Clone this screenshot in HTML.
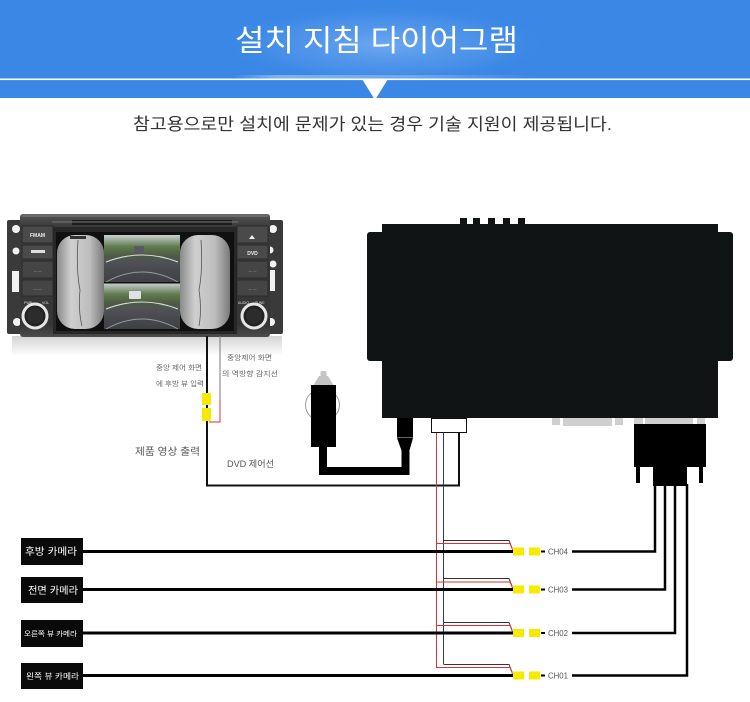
<!DOCTYPE html>
<html><head><meta charset="utf-8">
<style>
html,body{margin:0;padding:0;background:#fff;}
svg{display:block;}
text{font-family:"Liberation Sans","Noto Sans CJK KR",sans-serif;}
</style></head>
<body>
<svg width="750" height="702" viewBox="0 0 750 702" xmlns="http://www.w3.org/2000/svg">
<defs>
  <radialGradient id="glow" cx="0.5" cy="0.5" r="0.5">
    <stop offset="0" stop-color="#7fb4f2" stop-opacity="0.75"/>
    <stop offset="0.7" stop-color="#5b9cec" stop-opacity="0.35"/>
    <stop offset="1" stop-color="#3a87e6" stop-opacity="0"/>
  </radialGradient>
  <linearGradient id="stripe" x1="0" y1="0" x2="1" y2="0">
    <stop offset="0" stop-color="#ffffff" stop-opacity="0"/>
    <stop offset="0.15" stop-color="#ffffff" stop-opacity="0.7"/>
    <stop offset="0.6" stop-color="#ffffff" stop-opacity="0.5"/>
    <stop offset="1" stop-color="#ffffff" stop-opacity="0"/>
  </linearGradient>
  <linearGradient id="refl" x1="0" y1="0" x2="0" y2="1">
    <stop offset="0" stop-color="#c9c9c9"/>
    <stop offset="1" stop-color="#ffffff"/>
  </linearGradient>
  <linearGradient id="fish" x1="0" y1="0" x2="1" y2="0">
    <stop offset="0" stop-color="#8a8a8a"/>
    <stop offset="0.3" stop-color="#cfcfcf"/>
    <stop offset="0.7" stop-color="#bdbdbd"/>
    <stop offset="1" stop-color="#7a7a7a"/>
  </linearGradient>
  <linearGradient id="road" x1="0" y1="0" x2="0" y2="1">
    <stop offset="0" stop-color="#c9d0d4"/>
    <stop offset="0.25" stop-color="#5f7a4c"/>
    <stop offset="0.45" stop-color="#4c5a45"/>
    <stop offset="0.55" stop-color="#505256"/>
    <stop offset="1" stop-color="#3e4044"/>
  </linearGradient>
  <linearGradient id="chassis" x1="0" y1="0" x2="0" y2="1">
    <stop offset="0" stop-color="#555"/>
    <stop offset="0.1" stop-color="#3b3b3b"/>
    <stop offset="0.9" stop-color="#353535"/>
    <stop offset="1" stop-color="#4a4a4a"/>
  </linearGradient>
</defs>

<!-- HEADER -->
<rect x="0" y="0" width="750" height="98" fill="#3a87e6"/>
<ellipse cx="386" cy="45" rx="165" ry="40" fill="url(#glow)"/>
<rect x="232" y="75" width="300" height="4" fill="url(#stripe)" opacity="0.5"/>
<rect x="0" y="78.5" width="750" height="1.6" fill="#ffffff"/>
<polygon points="362,79 388,79 375,100" fill="#ffffff"/>
<text x="376.5" y="51" font-size="30" fill="#ffffff" text-anchor="middle" textLength="283" lengthAdjust="spacingAndGlyphs">설치 지침 다이어그램</text>
<text x="372.5" y="130" font-size="17" fill="#333" text-anchor="middle" textLength="479" lengthAdjust="spacingAndGlyphs">참고용으로만 설치에 문제가 있는 경우 기술 지원이 제공됩니다.</text>

<!-- HEAD UNIT -->
<rect x="12" y="336" width="270" height="20" fill="url(#refl)" opacity="0.8"/>
<rect x="7" y="220" width="18" height="114" rx="2" fill="#3a3a3a"/>
<rect x="265" y="220" width="18" height="114" rx="2" fill="#3a3a3a"/>
<circle cx="16" cy="229" r="4" fill="#f2f2f2"/>
<circle cx="16" cy="251" r="3.5" fill="#f2f2f2"/>
<rect x="12" y="271" width="7" height="21" fill="#f2f2f2"/>
<circle cx="17" cy="322" r="4" fill="#f2f2f2"/>
<circle cx="273" cy="229" r="4" fill="#f2f2f2"/>
<circle cx="270" cy="250" r="3.5" fill="#f2f2f2"/>
<circle cx="273" cy="264" r="3.5" fill="#f2f2f2"/>
<rect x="268" y="270" width="7" height="21" fill="#f2f2f2"/>
<circle cx="271" cy="322" r="4" fill="#f2f2f2"/>
<rect x="20" y="214" width="250" height="123" rx="3" fill="url(#chassis)"/>
<rect x="22" y="214" width="246" height="3" fill="#6a6a6a"/>
<rect x="72" y="220" width="160" height="5" fill="#1c1c1c"/>
<rect x="52" y="221" width="186" height="2" fill="#777" opacity="0.5"/>
<rect x="22" y="226" width="31" height="17" fill="#4a4a4a" stroke="#2a2a2a" stroke-width="1"/>
<rect x="22" y="245" width="31" height="14" fill="#4a4a4a" stroke="#2a2a2a" stroke-width="1"/>
<rect x="22" y="261" width="31" height="17" fill="#454545" stroke="#2a2a2a" stroke-width="1"/>
<rect x="22" y="280" width="31" height="16" fill="#454545" stroke="#2a2a2a" stroke-width="1"/>
<text x="37.5" y="237" font-size="5" fill="#eee" text-anchor="middle" font-weight="bold">FMAM</text>
<rect x="31" y="250" width="14" height="3" fill="#ddd"/>
<text x="37.5" y="272" font-size="3.5" fill="#aaa" text-anchor="middle">— —</text>
<text x="37.5" y="290" font-size="3.5" fill="#aaa" text-anchor="middle">— —</text>
<text x="24" y="304" font-size="3.5" fill="#ddd">PWR</text>
<text x="42" y="304" font-size="3.5" fill="#ddd">VOL</text>
<circle cx="35" cy="316" r="12" fill="#222" stroke="#e6e6e6" stroke-width="3"/>
<circle cx="35" cy="316" r="8" fill="#2c2c2c"/>
<rect x="237" y="226" width="31" height="17" fill="#4a4a4a" stroke="#2a2a2a" stroke-width="1"/>
<rect x="237" y="245" width="31" height="14" fill="#4a4a4a" stroke="#2a2a2a" stroke-width="1"/>
<rect x="237" y="261" width="31" height="17" fill="#454545" stroke="#2a2a2a" stroke-width="1"/>
<rect x="237" y="280" width="31" height="16" fill="#454545" stroke="#2a2a2a" stroke-width="1"/>
<polygon points="249,239 255,239 252,235" fill="#eee"/>
<text x="252.5" y="255" font-size="5" fill="#eee" text-anchor="middle" font-weight="bold">DVD</text>
<text x="252.5" y="272" font-size="3.5" fill="#aaa" text-anchor="middle">— —</text>
<text x="252.5" y="290" font-size="3.5" fill="#aaa" text-anchor="middle">— —</text>
<text x="238" y="304" font-size="3.5" fill="#ddd">AUDIO</text>
<text x="255" y="304" font-size="3.5" fill="#ddd">TUNE</text>
<circle cx="254" cy="316" r="12" fill="#222" stroke="#e6e6e6" stroke-width="3"/>
<circle cx="254" cy="316" r="8" fill="#2c2c2c"/>
<rect x="53" y="227" width="184" height="107" fill="#272727"/>
<rect x="56" y="232" width="178" height="99" fill="#101010"/>
<rect x="57" y="235" width="47" height="94" rx="18" fill="url(#fish)"/>
<path d="M78 240 Q76 270 80 290 Q78 310 82 326" stroke="#555" stroke-width="0.8" fill="none"/>
<rect x="70" y="236" width="16" height="3" fill="#333"/>
<rect x="180" y="235" width="50" height="94" rx="18" fill="url(#fish)"/>
<path d="M201 240 Q203 270 199 290 Q202 310 199 326" stroke="#555" stroke-width="0.8" fill="none"/>
<rect x="104" y="235" width="76" height="47" fill="url(#road)"/>
<rect x="104" y="283" width="76" height="46" fill="url(#road)"/>
<path d="M106 262 Q142 248 178 262" stroke="#ddd" stroke-width="1" fill="none"/>
<path d="M106 309 Q142 295 178 309" stroke="#ddd" stroke-width="1" fill="none"/>
<path d="M106 282 Q142 262 178 282" stroke="#999" stroke-width="1" fill="none"/>
<path d="M106 329 Q142 309 178 329" stroke="#999" stroke-width="1" fill="none"/>
<rect x="134" y="246" width="10" height="7" rx="1" fill="#5a5a66"/>
<rect x="129" y="291" width="12" height="8" rx="1" fill="#e0e0e8"/>
<rect x="104" y="282" width="76" height="1.5" fill="#111"/>

<!-- head unit wires -->
<line x1="207" y1="336" x2="207" y2="486" stroke="#111" stroke-width="2"/>
<line x1="220" y1="336" x2="220" y2="400" stroke="#777" stroke-width="1"/>
<polyline points="220,400 220,422 209,422" stroke="#e03030" stroke-width="1" fill="none"/>
<rect x="202" y="393" width="9" height="12" fill="#f5ea00"/>
<rect x="202" y="408" width="9" height="13" fill="#f5ea00"/>
<text x="156" y="370" font-size="7" fill="#666" textLength="46" lengthAdjust="spacingAndGlyphs">중앙 제어 화면</text>
<text x="156" y="386" font-size="7" fill="#666" textLength="48" lengthAdjust="spacingAndGlyphs">에 후방 뷰 입력</text>
<text x="227" y="360" font-size="7" fill="#666" textLength="45" lengthAdjust="spacingAndGlyphs">중앙제어 화면</text>
<text x="222" y="376" font-size="7" fill="#666" textLength="56" lengthAdjust="spacingAndGlyphs">의 역방향 감지선</text>
<text x="135" y="455" font-size="10" fill="#555" textLength="65" lengthAdjust="spacingAndGlyphs">제품 영상 출력</text>
<text x="227" y="467" font-size="9" fill="#555" textLength="47" lengthAdjust="spacingAndGlyphs">DVD 제어선</text>

<!-- MAIN BOX -->
<rect x="367" y="232" width="366" height="129" rx="3" fill="#111414"/>
<rect x="382" y="224" width="336" height="194" fill="#111414"/>
<rect x="460" y="218" width="7" height="7" fill="#111414"/>
<rect x="473" y="218" width="7" height="7" fill="#111414"/>
<rect x="488" y="218" width="7" height="7" fill="#111414"/>
<rect x="503" y="218" width="7" height="7" fill="#111414"/>
<rect x="518" y="218" width="7" height="7" fill="#111414"/>
<rect x="552" y="418" width="8" height="7" fill="#cfcfcf"/>
<rect x="563" y="418" width="49" height="8" fill="#cfcfcf"/>
<rect x="615" y="418" width="8" height="7" fill="#cfcfcf"/>
<rect x="634" y="418" width="9" height="6" fill="#cfcfcf"/>
<rect x="645" y="418" width="48" height="6" fill="#cfcfcf"/>
<rect x="697" y="418" width="8" height="6" fill="#cfcfcf"/>
<rect x="634" y="424" width="72" height="43" fill="#000"/>
<rect x="636" y="466" width="4" height="17" fill="#000"/>
<rect x="699" y="466" width="4" height="17" fill="#000"/>
<rect x="653" y="466" width="34" height="20" fill="#000"/>

<rect x="397" y="418" width="16" height="19" fill="#000"/>
<line x1="397" y1="437.5" x2="413" y2="437.5" stroke="#666" stroke-width="1"/>
<polygon points="397,438 413,438 409,452 402,452" fill="#000"/>
<ellipse cx="322.5" cy="405" rx="17" ry="16" fill="none" stroke="#999" stroke-width="1"/>
<polygon points="313,386 334,386 328,376 319,376" fill="#c4c4c4"/>
<rect x="320.5" y="371" width="6" height="6" rx="2" fill="#c4c4c4"/>
<rect x="311" y="385" width="25" height="62" fill="#000"/>
<polyline points="323,446 323,471 405.5,471 405.5,451" stroke="#000" stroke-width="8" fill="none" stroke-linejoin="miter"/>

<rect x="431.5" y="418.5" width="35" height="14" fill="#fff" stroke="#111" stroke-width="1"/>
<polyline points="459,433 459,485.5 206,485.5" stroke="#111" stroke-width="2" fill="none"/>
<line x1="436.5" y1="433" x2="436.5" y2="668" stroke="#e03030" stroke-width="1"/>
<line x1="443.5" y1="433" x2="443.5" y2="664" stroke="#333a55" stroke-width="1"/>

<g fill="none" stroke-width="1">
  <polyline points="443.5,540.5 509,540.5 512,548" stroke="#333"/>
  <polyline points="436.5,543.5 510,543.5 513,551" stroke="#e03030"/>
  <polyline points="443.5,578.5 509,578.5 512,586" stroke="#333"/>
  <polyline points="436.5,582 510,582 513,589" stroke="#e03030"/>
  <polyline points="443.5,622.5 509,622.5 512,630" stroke="#333"/>
  <polyline points="436.5,625.5 510,625.5 513,633" stroke="#e03030"/>
  <polyline points="443.5,664.5 509,664.5 512,672" stroke="#333"/>
  <polyline points="436.5,667.5 510,667.5 513,675" stroke="#e03030"/>
</g>

<g stroke="#000" stroke-width="3">
  <line x1="83" y1="551.5" x2="513" y2="551.5"/>
  <line x1="83" y1="589.5" x2="513" y2="589.5"/>
  <line x1="83" y1="633" x2="513" y2="633"/>
  <line x1="83" y1="675.5" x2="513" y2="675.5"/>
</g>
<rect x="21" y="538" width="62" height="27" fill="#0a0a0a"/>
<rect x="21" y="577" width="62" height="26" fill="#0a0a0a"/>
<rect x="21" y="620" width="62" height="27" fill="#0a0a0a"/>
<rect x="21" y="663" width="62" height="26" fill="#0a0a0a"/>
<text x="25" y="555" font-size="10" fill="#fff" textLength="52" lengthAdjust="spacingAndGlyphs">후방 카메라</text>
<text x="28" y="594" font-size="10" fill="#fff" textLength="50" lengthAdjust="spacingAndGlyphs">전면 카메라</text>
<text x="24" y="636" font-size="7" fill="#fff" textLength="53" lengthAdjust="spacingAndGlyphs">오른쪽 뷰 카메라</text>
<text x="26" y="679" font-size="8" fill="#fff" textLength="53" lengthAdjust="spacingAndGlyphs">왼쪽 뷰 카메라</text>

<g fill="#f5ea00">
  <rect x="513" y="547.5" width="11" height="8"/><rect x="529" y="547.5" width="11" height="8"/>
  <rect x="513" y="585.5" width="11" height="8"/><rect x="529" y="585.5" width="11" height="8"/>
  <rect x="513" y="629" width="11" height="8"/><rect x="529" y="629" width="11" height="8"/>
  <rect x="513" y="671.5" width="11" height="8"/><rect x="529" y="671.5" width="11" height="8"/>
</g>
<g stroke="#000" stroke-width="2">
  <line x1="541" y1="551.5" x2="545" y2="551.5"/>
  <line x1="541" y1="589.5" x2="545" y2="589.5"/>
  <line x1="541" y1="633" x2="545" y2="633"/>
  <line x1="541" y1="675.5" x2="545" y2="675.5"/>
</g>
<g font-size="8" fill="#555">
  <text x="548" y="554.5" textLength="20" lengthAdjust="spacingAndGlyphs">CH04</text>
  <text x="548" y="592.5" textLength="20" lengthAdjust="spacingAndGlyphs">CH03</text>
  <text x="548" y="636" textLength="20" lengthAdjust="spacingAndGlyphs">CH02</text>
  <text x="548" y="678.5" textLength="20" lengthAdjust="spacingAndGlyphs">CH01</text>
</g>
<g stroke="#000" stroke-width="2.5" fill="none">
  <polyline points="572,551.5 655,551.5 655,484"/>
  <polyline points="572,589.5 665,589.5 665,484"/>
  <polyline points="572,633 675,633 675,484"/>
  <polyline points="572,675.5 687,675.5 687,484"/>
</g>
</svg>
</body></html>
